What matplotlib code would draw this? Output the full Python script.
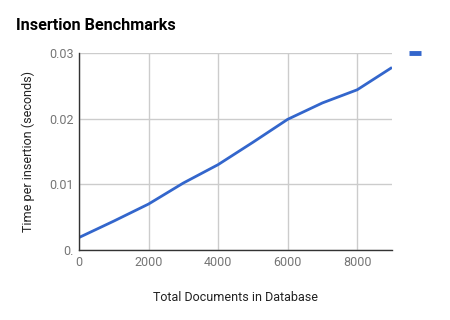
import matplotlib
matplotlib.use("Agg")
import matplotlib.pyplot as plt
from matplotlib.lines import Line2D

# Data
docs = [0, 1000, 2000, 3000, 4000, 5000, 6000, 7000, 8000, 9000]
time_per_insert = [0.0019, 0.0044, 0.0070, 0.0102, 0.0130, 0.0164, 0.0199, 0.0224, 0.0244, 0.0278]
x_ticks = [0, 2000, 4000, 6000, 8000]
y_ticks = [0, 0.01, 0.02, 0.03]
y_tick_labels = ["0.", "0.01", "0.02", "0.03"]

plt.rcParams["font.family"] = ["Roboto", "DejaVu Sans"]

fig = plt.figure(figsize=(4.5, 3.2), dpi=100)
ax = fig.add_axes([79 / 450, 1 - 250 / 320, (392 - 79) / 450, (250 - 53) / 320])

ax.plot(docs, time_per_insert, color="#3366cc", lw=2, solid_capstyle="butt")

ax.set_xlim(0, 9000)
ax.set_ylim(0, 0.03)
ax.set_xticks(x_ticks)
ax.set_yticks(y_ticks)
ax.set_yticklabels(y_tick_labels)
ax.tick_params(length=0, labelsize=9, colors="#757575", pad=4)
ax.grid(True, color="#cccccc", lw=1)
ax.set_axisbelow(True)
for s in ["top", "right"]:
    ax.spines[s].set_visible(False)
for s in ["left", "bottom"]:
    ax.spines[s].set_color("#333333")
    ax.spines[s].set_linewidth(1)
    ax.spines[s].set_zorder(3)

ax.set_xlabel("Total Documents in Database", fontsize=9, color="#222222", labelpad=16)
ax.set_ylabel("Time per insertion (seconds)", fontsize=9, color="#222222", labelpad=10)

fig.text(16 / 450, 1 - 25 / 320, "Insertion Benchmarks", fontsize=11.6, fontweight="bold",
         color="#000000", va="center", ha="left")

# legend marker with no label text (truncated in the original)
fig.add_artist(Line2D([409 / 450, 421 / 450], [1 - 53 / 320, 1 - 53 / 320],
                      transform=fig.transFigure, color="#3366cc", lw=3.5,
                      solid_capstyle="butt"))

fig.savefig("out.png", dpi=100, facecolor="white")
